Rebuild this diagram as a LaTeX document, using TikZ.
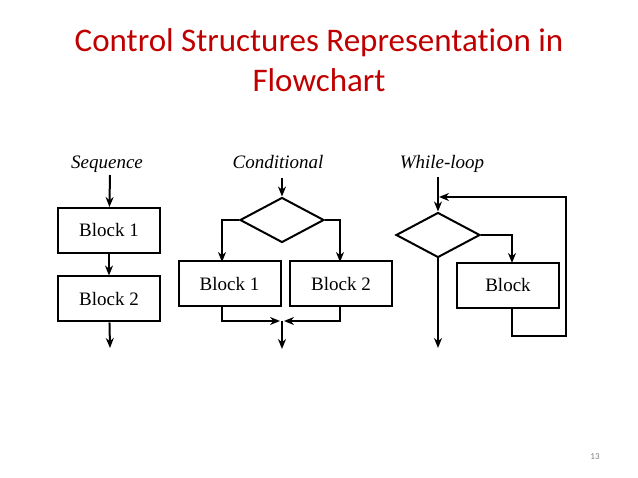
\documentclass[tikz,border=0pt]{standalone}
\usepackage{fontspec}
\setmainfont{Liberation Serif}
\newfontfamily\titlefont[Ligatures=NoCommon]{Carlito}
\usetikzlibrary{shapes.geometric,arrows.meta}
\definecolor{titlered}{RGB}{192,0,0}
\begin{document}
\begin{tikzpicture}[
    x=1pt, y=-1pt,
    % common looks
    line width=2pt,
    >={Stealth[length=10pt,width=8pt]},
    block/.style={draw, minimum width=102pt, minimum height=45pt, font=\fontsize{19}{22}\selectfont, inner sep=0pt},
    decision/.style={draw, diamond, minimum width=84pt, minimum height=45pt, inner sep=0pt, aspect=1.9},
    heading/.style={font=\itshape\fontsize{19}{22}\selectfont, anchor=base}
]
    \useasboundingbox (0,0) rectangle (638,478);

    % Title
    \node[font=\titlefont\fontsize{33}{40}\selectfont, text=titlered, align=center] (title) at (319,60) {Control Structures Representation in\\Flowchart};

    % Sequence
    \node[heading] (seqlabel) at (107,169) {Sequence};
    \coordinate (seqin) at (110,175);
    \node[block] (seqa) at (109,230.5) {Block 1};
    \node[block] (seqb) at (109,299) {Block 2};
    \coordinate (seqout) at (110,348);
    \draw[->] (seqin) -- (seqa);
    \draw[->] (seqa) -- (seqb);
    \draw[->] (seqb) -- (seqout);

    % Conditional
    \node[heading] (condlabel) at (278,169) {Conditional};
    \coordinate (condin) at (282,178);
    \node[decision] (cond) at (282,220) {};
    \node[block] (conda) at (229.5,284) {Block 1};
    \node[block] (condb) at (341,284) {Block 2};
    \coordinate (condjoin) at (282,321);
    \coordinate (condout) at (282,349);
    \draw[->] (condin) -- (cond.north);
    \draw[->] (cond.west) -- (222,220) -- (222,262);
    \draw[->] (cond.east) -- (340,220) -- (340,262);
    \draw[->] (222,306) -- (222,321) -- (280,321);
    \draw[->] (340,306) -- (340,321) -- (284,321);
    \draw[->] (condjoin) -- (condout);

    % While-loop
    \node[heading] (looplabel) at (442,169) {While-loop};
    \coordinate (loopin) at (438,177);
    \node[decision] (loop) at (438,235) {};
    \node[block] (loopbody) at (508,285.5) {Block};
    \coordinate (loopout) at (438,348);
    \draw[->] (loopin) -- (loop.north);
    \draw[->] (loop.east) -- (512,235) -- (512,263);
    \draw[->] (512,309) -- (512,336) -- (566,336) -- (566,197) -- (439,197);
    \draw[->] (loop.south) -- (loopout);

    % Page number
    \node[font=\titlefont\fontsize{9}{10}\selectfont, text=gray] (pagenum) at (595,457) {13};
\end{tikzpicture}
\end{document}
